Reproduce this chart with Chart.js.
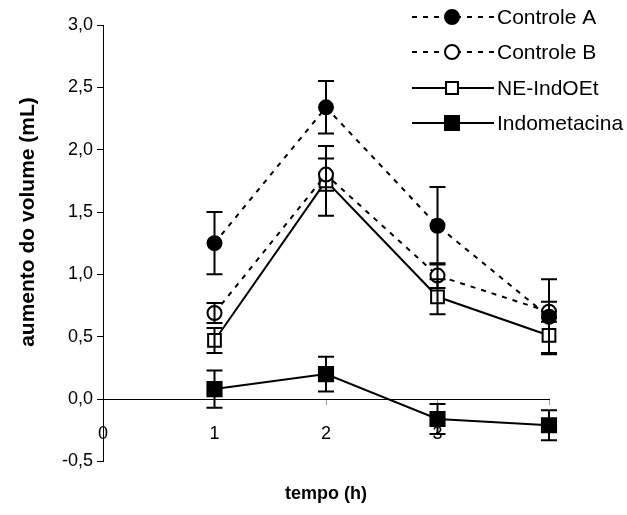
<!DOCTYPE html>
<html>
<head>
<meta charset="utf-8">
<script src="https://cdn.jsdelivr.net/npm/chart.js@4.4.0/dist/chart.umd.min.js"></script>
<style>
  html, body { margin: 0; padding: 0; background: #fff; }
</style>
</head>
<body>
<canvas id="grafico" width="627" height="515"></canvas>
<script>
// tempo (h) e séries
const tempos = [1, 2, 3, 4];
const nomes = ['Controle A', 'Controle B', 'NE-IndOEt', 'Indometacina'];
const controleA = [1.25, 2.34, 1.39, 0.66];
const erroA = [0.25, 0.21, 0.31, 0.30];
const controleB = [0.69, 1.80, 0.99, 0.70];
const erroB = [0.08, 0.13, 0.10, 0.08];
const neIndOEt = [0.47, 1.75, 0.82, 0.51];
const erroNE = [0.10, 0.28, 0.14, 0.14];
const indometacina = [0.08, 0.20, -0.16, -0.21];
const erroIndo = [0.15, 0.14, 0.12, 0.12];
const ticksY = [-0.5, 0, 0.5, 1.0, 1.5, 2.0, 2.5, 3.0];
const ticksX = [0, 1, 2, 3];
const tituloY = 'aumento do volume (mL)';

Chart.defaults.font.family = "'Liberation Sans', Arial, sans-serif";
Chart.defaults.color = '#000';

const pontos = (vals) => vals.map((v, i) => ({ x: tempos[i], y: v }));

const estilos = [
  { dash: [5, 6], forma: 'circle', cheio: true },
  { dash: [5, 6], forma: 'circle', cheio: false },
  { dash: [], forma: 'rect', cheio: false },
  { dash: [], forma: 'rect', cheio: true }
];

// barras de erro desenhadas pelas escalas
const barrasErro = {
  id: 'barrasErro',
  afterDatasetsDraw(chart) {
    const { ctx, scales: { x, y } } = chart;
    ctx.save();
    ctx.strokeStyle = '#000';
    ctx.lineWidth = 2;
    chart.data.datasets.forEach(ds => {
      ds.data.forEach((p, i) => {
        const e = ds.erros[i];
        const px = x.getPixelForValue(p.x);
        const yt = y.getPixelForValue(p.y + e);
        const yb = y.getPixelForValue(p.y - e);
        ctx.beginPath();
        ctx.moveTo(px, yt); ctx.lineTo(px, yb);
        ctx.moveTo(px - 8, yt); ctx.lineTo(px + 8, yt);
        ctx.moveTo(px - 8, yb); ctx.lineTo(px + 8, yb);
        ctx.stroke();
      });
    });
    ctx.restore();
  }
};

// título do eixo y e legenda no canto superior direito
const textos = {
  id: 'textos',
  afterDraw(chart) {
    const ctx = chart.ctx;
    ctx.save();
    ctx.fillStyle = '#000';
    ctx.translate(28, 222);
    ctx.rotate(-Math.PI / 2);
    ctx.font = "bold 21px 'Liberation Sans', Arial, sans-serif";
    ctx.textAlign = 'center';
    ctx.textBaseline = 'middle';
    ctx.fillText(tituloY, 0, 0);
    ctx.restore();

    const linhasY = [17, 52, 88, 123];
    ctx.save();
    nomes.forEach((nome, i) => {
      const yy = linhasY[i];
      const est = estilos[i];
      ctx.strokeStyle = '#000';
      ctx.lineWidth = 2;
      ctx.setLineDash(est.dash);
      ctx.beginPath();
      ctx.moveTo(412, yy); ctx.lineTo(494, yy);
      ctx.stroke();
      ctx.setLineDash([]);
      ctx.fillStyle = est.cheio ? '#000' : '#fff';
      ctx.beginPath();
      if (est.forma === 'circle') {
        ctx.arc(452, yy, 7, 0, Math.PI * 2);
      } else {
        const s = est.cheio ? 7 : 6;
        ctx.rect(452 - s, yy - s, 2 * s, 2 * s);
      }
      ctx.fill();
      ctx.stroke();
      ctx.fillStyle = '#000';
      ctx.font = "21px 'Liberation Sans', Arial, sans-serif";
      ctx.textBaseline = 'middle';
      ctx.fillText(nome, 497, yy + 1);
    });
    ctx.restore();
  }
};

const series = [controleA, controleB, neIndOEt, indometacina];
const erros = [erroA, erroB, erroNE, erroIndo];

new Chart(document.getElementById('grafico'), {
  type: 'line',
  data: {
    datasets: series.map((s, i) => ({
      label: nomes[i],
      data: pontos(s),
      erros: erros[i],
      borderColor: '#000',
      borderWidth: 2,
      borderDash: estilos[i].dash,
      pointStyle: estilos[i].forma,
      pointRadius: estilos[i].forma === 'circle' ? 7 : (estilos[i].cheio ? 10 : 9),
      pointBorderWidth: 2,
      pointBorderColor: '#000',
      pointBackgroundColor: estilos[i].cheio ? '#000' : '#fff',
      tension: 0,
      clip: false
    }))
  },
  options: {
    responsive: false,
    animation: false,
    layout: { padding: { left: 8, right: 78, top: 25, bottom: 0 } },
    plugins: {
      legend: { display: false },
      tooltip: { enabled: false },
      title: {
        display: true,
        position: 'bottom',
        fullSize: false,
        text: 'tempo (h)',
        font: { size: 18, weight: 'bold' },
        padding: { top: 22, bottom: 10 }
      }
    },
    scales: {
      x: {
        type: 'linear',
        min: 0,
        max: 4,
        position: { y: 0 },
        afterBuildTicks: (s) => { s.ticks = [...ticksX, 4].map(v => ({ value: v })); },
        ticks: {
          padding: 19,
          font: { size: 18 },
          callback: (v) => ticksX.includes(v) ? String(v) : ''
        },
        grid: { drawOnChartArea: false, drawTicks: true, tickLength: 5, color: '#999' },
        border: { display: true, color: '#000', width: 1 }
      },
      y: {
        min: -0.5,
        max: 3,
        afterBuildTicks: (s) => { s.ticks = ticksY.map(v => ({ value: v })); },
        afterFit: (s) => { s.width = 95; },
        ticks: {
          padding: 4,
          font: { size: 18 },
          callback: (v) => v.toFixed(1).replace('.', ',')
        },
        grid: { drawOnChartArea: false, drawTicks: true, tickLength: 6, color: '#000' },
        border: { display: true, color: '#000', width: 1 }
      }
    }
  },
  plugins: [barrasErro, textos]
});
</script>
</body>
</html>
